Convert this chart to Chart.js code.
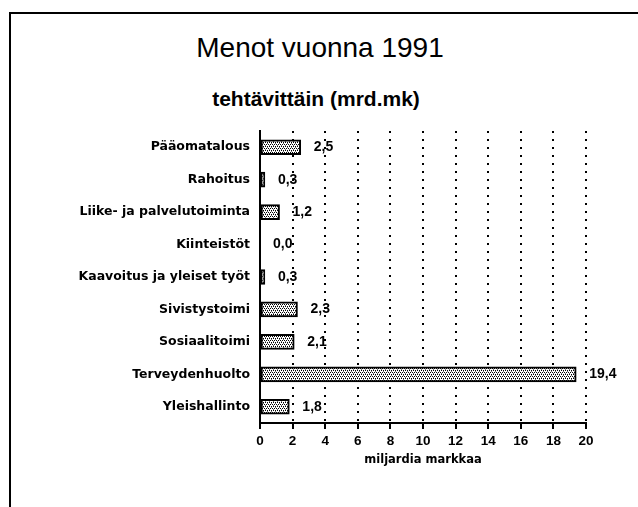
<!DOCTYPE html>
<html>
<head>
<meta charset="utf-8">
<script src="https://cdn.jsdelivr.net/npm/chart.js@4"></script>
<style>
    html, body { margin: 0; padding: 0; background: #fff; }
    #wrap { position: relative; width: 638px; height: 507px; overflow: hidden; }
    #frame { position: absolute; left: 9px; top: 12px; width: 700px; height: 600px;
             border-top: 2px solid #000; border-left: 2px solid #000; }
    .title { position: absolute; left: 0; width: 640px; text-align: center; color: #000; }
    #t1 { top: 32px; font: 28px "Liberation Sans", Arial, sans-serif; }
    #t2 { top: 87px; font: bold 21px "Liberation Sans", Arial, sans-serif; left: -4px; }
    canvas { position: absolute; left: 0; top: 0; }
</style>
</head>
<body>
<div id="wrap">
    <div id="frame"></div>
    <div class="title" id="t1">Menot vuonna 1991</div>
    <div class="title" id="t2">tehtävittäin (mrd.mk)</div>
    <canvas id="menotChart" width="638" height="507"></canvas>
</div>
<script>
// Categories (top to bottom) and values in billions of marks
const categories = [
    'Pääomatalous',
    'Rahoitus',
    'Liike- ja palvelutoiminta',
    'Kiinteistöt',
    'Kaavoitus ja yleiset työt',
    'Sivistystoimi',
    'Sosiaalitoimi',
    'Terveydenhuolto',
    'Yleishallinto'
];
const values = [2.5, 0.3, 1.2, 0.0, 0.3, 2.3, 2.1, 19.4, 1.8];
const xTicks = [0, 2, 4, 6, 8, 10, 12, 14, 16, 18, 20];
const xTitle = 'miljardia markkaa';

// stippled grey fill like the old print
function makePattern() {
    const p = document.createElement('canvas');
    p.width = 4;
    p.height = 4;
    const c = p.getContext('2d');
    c.fillStyle = '#fff';
    c.fillRect(0, 0, 4, 4);
    c.fillStyle = '#000';
    c.fillRect(0, 0, 1, 1);
    c.fillRect(2, 0, 1, 1);
    c.fillRect(1, 2, 1, 1);
    c.fillRect(3, 2, 1, 1);
    c.fillStyle = '#777';
    c.fillRect(1, 1, 1, 1);
    c.fillRect(3, 3, 1, 1);
    return c.createPattern(p, 'repeat');
}

// value labels to the right of each bar
const valueLabels = {
    id: 'valueLabels',
    afterDatasetsDraw: function (chart) {
        const ctx = chart.ctx;
        const meta = chart.getDatasetMeta(0);
        ctx.save();
        ctx.fillStyle = '#000';
        ctx.font = 'bold 14px "Liberation Sans", Arial, sans-serif';
        ctx.textAlign = 'left';
        ctx.textBaseline = 'middle';
        meta.data.forEach(function (bar, i) {
            const txt = values[i].toFixed(1).replace('.', ',');
            ctx.fillText(txt, bar.x + 13, bar.y);
        });
        ctx.restore();
    }
};

const ctx = document.getElementById('menotChart').getContext('2d');

new Chart(ctx, {
    type: 'bar',
    data: {
        labels: categories,
        datasets: [{
            data: values,
            backgroundColor: makePattern(),
            borderColor: '#000',
            borderWidth: 2,
            borderSkipped: false,
            barThickness: 15
        }]
    },
    options: {
        indexAxis: 'y',
        responsive: false,
        animation: false,
        layout: {
            padding: { top: 131, right: 52, left: 0, bottom: 40 }
        },
        scales: {
            x: {
                min: 0,
                max: 20,
                afterBuildTicks: function (scale) {
                    scale.ticks = xTicks.map(function (v) { return { value: v }; });
                },
                afterFit: function (scale) {
                    scale.height = 44;
                },
                border: { display: true, color: '#000', width: 2, dash: [2, 6] },
                grid: {
                    color: '#000',
                    lineWidth: 2,
                    drawTicks: true,
                    tickLength: 6,
                    tickColor: '#000',
                    tickWidth: 2,
                    tickBorderDash: []
                },
                ticks: {
                    color: '#000',
                    padding: 4,
                    maxRotation: 0,
                    font: { family: '"Liberation Sans", Arial, sans-serif', size: 13.5, weight: 'bold' }
                },
                title: {
                    display: true,
                    text: xTitle,
                    color: '#000',
                    padding: { top: 0, bottom: 0 },
                    font: { family: '"DejaVu Sans", sans-serif', size: 11.5, weight: 'bold' }
                }
            },
            y: {
                afterFit: function (scale) {
                    scale.width = 260;
                },
                border: { display: true, color: '#000', width: 2 },
                grid: { display: false, drawTicks: false },
                ticks: {
                    color: '#000',
                    padding: 10,
                    font: { family: '"DejaVu Sans", sans-serif', size: 12.5, weight: 'bold' }
                }
            }
        },
        plugins: {
            legend: { display: false },
            tooltip: { enabled: false }
        }
    },
    plugins: [valueLabels]
});
</script>
</body>
</html>
